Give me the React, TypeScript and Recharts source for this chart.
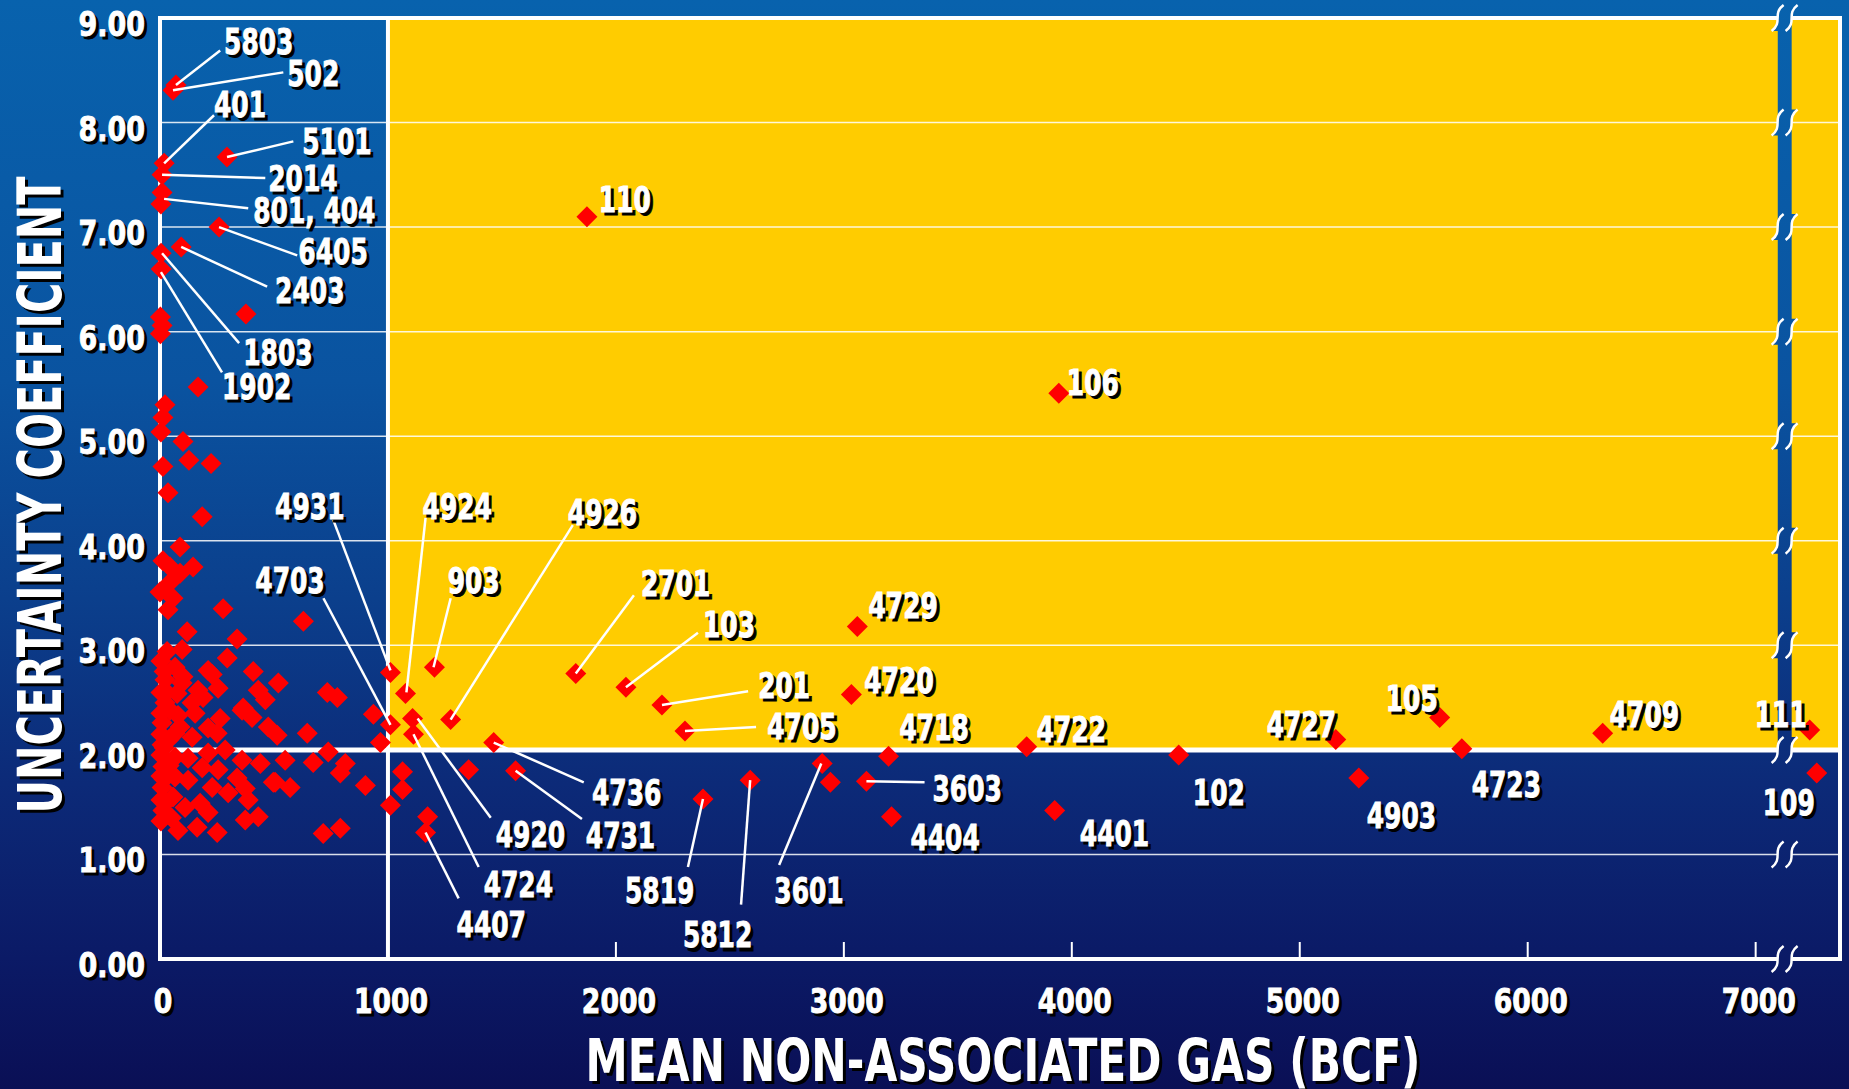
import React from 'react';
import {
  ScatterChart, Scatter, XAxis, YAxis, CartesianGrid,
  ReferenceArea, ReferenceLine, ReferenceDot,
} from 'recharts';

const W = 1849;
const H = 1089;
const FONT = "'Liberation Sans Narrow', 'Arial Narrow', 'DejaVu Sans Condensed', sans-serif";

// axis setup
const X_MAX = 7370;
const xTicks = [0, 1000, 2000, 3000, 4000, 5000, 6000, 7000];
const yTicks = [0, 1, 2, 3, 4, 5, 6, 7, 8, 9];
const BREAK_X = [7097, 7158]; // blue column of the axis break
const BREAK_MID = 7127;

// labelled fields: [name, mean gas (BCF), uncertainty coefficient]
const labelledFields: [string, number, number][] = [
  ['5803', 70, 8.36], ['502', 57, 8.31], ['401', 18, 7.61], ['5101', 294, 7.67],
  ['2014', 9, 7.5], ['801', 9, 7.33], ['404', 4, 7.22], ['6405', 259, 7.0],
  ['2403', 93, 6.81], ['1803', 5, 6.75], ['1902', 5, 6.6], ['110', 1873, 7.1],
  ['106', 3943, 5.41], ['4931', 1011, 2.74], ['4924', 1077, 2.54], ['903', 1204, 2.79],
  ['4926', 1275, 2.29], ['4703', 1011, 2.24], ['4920', 1108, 2.3], ['4724', 1112, 2.15],
  ['4736', 1464, 2.07], ['4731', 1560, 1.8], ['4407', 1165, 1.21], ['2701', 1824, 2.73],
  ['103', 2044, 2.6], ['201', 2202, 2.43], ['4705', 2303, 2.18], ['5819', 2382, 1.53],
  ['5812', 2589, 1.71], ['3601', 2905, 1.87], ['3603', 3099, 1.7], ['4729', 3059, 3.18],
  ['4720', 3033, 2.53], ['4718', 3196, 1.94], ['4404', 3209, 1.36], ['4722', 3802, 2.03],
  ['4401', 3925, 1.42], ['102', 4469, 1.95], ['4727', 5158, 2.1], ['4903', 5259, 1.73],
  ['105', 5614, 2.31], ['4723', 5711, 2.01], ['4709', 6329, 2.16], ['111', 7237, 2.19],
  ['109', 7268, 1.78],
];

// other fields, mostly the small ones crowded near the y axis
const otherFields: [number, number][] = [
  [377, 6.17], [2, 6.14], [9, 6.06], [2, 5.98],
  [167, 5.47], [22, 5.3], [13, 5.18], [4, 5.04], [101, 4.95], [13, 4.71], [127, 4.77],
  [224, 4.74], [35, 4.46], [185, 4.23],
  [88, 3.94], [13, 3.81], [44, 3.75], [145, 3.75], [88, 3.69], [44, 3.6], [0, 3.51],
  [57, 3.45], [35, 3.34], [277, 3.35], [629, 3.23], [119, 3.13], [338, 3.06],
  [31, 2.94], [97, 2.96], [295, 2.88], [409, 2.75], [66, 2.79], [101, 2.7], [211, 2.76],
  [229, 2.72], [22, 2.67], [519, 2.64], [255, 2.59], [75, 2.54], [167, 2.57], [431, 2.57],
  [462, 2.48], [22, 2.45], [141, 2.45], [360, 2.38], [79, 2.33], [154, 2.35], [404, 2.31],
  [264, 2.3], [9, 2.26], [211, 2.21], [475, 2.22], [66, 2.16], [141, 2.12], [514, 2.14],
  [9, 2.05], [286, 2.0], [211, 1.97], [66, 1.93], [123, 1.92], [360, 1.9], [440, 1.87],
  [13, 1.84], [185, 1.83], [255, 1.81], [66, 1.74], [123, 1.71], [338, 1.73], [497, 1.69],
  [9, 1.64], [229, 1.64], [374, 1.63], [299, 1.59], [57, 1.55], [176, 1.49], [387, 1.52],
  [13, 1.42], [110, 1.45], [211, 1.4], [431, 1.36], [374, 1.33], [79, 1.23], [163, 1.26],
  [251, 1.21], [44, 2.38], [88, 2.22], [251, 2.16], [189, 2.5], [365, 2.4], [97, 2.64],
  [4, 2.85], [4, 2.55], [4, 2.35], [4, 2.15], [4, 1.95], [4, 1.75], [4, 1.52], [4, 1.32],
  [18, 2.75], [18, 2.02], [18, 1.72], [26, 1.5], [40, 2.1], [40, 1.85], [30, 2.55], [50, 1.35],
  [734, 2.55], [778, 2.5], [936, 2.34], [646, 2.16], [967, 2.07], [738, 1.98], [549, 1.9],
  [672, 1.88], [813, 1.87], [791, 1.78], [901, 1.66], [505, 1.69], [571, 1.64], [1011, 1.47],
  [716, 1.2], [791, 1.25], [1064, 1.79], [1064, 1.62], [1174, 1.36], [1354, 1.81], [2941, 1.69],
];

// label placement in data units: [text, label x, label y, leader from x, from y, to x, to y]
const labelNotes: [string, number, number, number?, number?, number?, number?][] = [
  ['5803', 281, 8.66, 264, 8.69, 70, 8.36],
  ['502', 558, 8.35, 541, 8.48, 57, 8.31],
  ['401', 237, 8.05, 237, 8.07, 18, 7.61],
  ['5101', 624, 7.7, 585, 7.82, 294, 7.67],
  ['2014', 475, 7.35, 462, 7.47, 9, 7.5],
  ['801, 404', 409, 7.04, 387, 7.18, 18, 7.27],
  ['6405', 607, 6.65, 602, 6.73, 259, 7.0],
  ['2403', 505, 6.27, 470, 6.43, 93, 6.81],
  ['1803', 365, 5.68, 347, 5.89, 9, 6.75],
  ['1902', 272, 5.36, 272, 5.61, 4, 6.57],
  ['110', 1925, 7.14],
  ['106', 3978, 5.39],
  ['4931', 505, 4.21, 760, 4.2, 1011, 2.76],
  ['4703', 418, 3.5, 717, 3.45, 1011, 2.24],
  ['4924', 1152, 4.21, 1165, 4.22, 1081, 2.55],
  ['903', 1262, 3.5, 1275, 3.45, 1200, 2.79],
  ['4926', 1789, 4.15, 1811, 4.15, 1275, 2.29],
  ['2701', 2110, 3.47, 2079, 3.48, 1824, 2.73],
  ['103', 2382, 3.08, 2360, 3.12, 2044, 2.6],
  ['201', 2624, 2.5, 2580, 2.56, 2202, 2.43],
  ['4705', 2664, 2.1, 2615, 2.22, 2303, 2.18],
  ['4729', 3108, 3.26],
  ['4720', 3090, 2.54],
  ['4718', 3244, 2.09],
  ['4722', 3846, 2.08],
  ['3603', 3389, 1.51, 3354, 1.69, 3099, 1.7],
  ['3601', 2695, 0.54, 2716, 0.9, 2901, 1.87],
  ['4404', 3292, 1.04],
  ['4736', 1895, 1.47, 1859, 1.69, 1464, 2.07],
  ['4920', 1473, 1.07, 1451, 1.35, 1130, 2.3],
  ['4731', 1868, 1.06, 1851, 1.34, 1560, 1.8],
  ['4724', 1420, 0.59, 1398, 0.88, 1112, 2.15],
  ['4407', 1301, 0.21, 1310, 0.58, 1165, 1.21],
  ['5819', 2040, 0.54, 2316, 0.88, 2382, 1.53],
  ['5812', 2294, 0.11, 2549, 0.52, 2589, 1.71],
  ['4401', 4035, 1.08],
  ['102', 4531, 1.47],
  ['4727', 4855, 2.12],
  ['4903', 5294, 1.25],
  ['105', 5377, 2.37],
  ['4723', 5754, 1.55],
  ['4709', 6360, 2.22],
  ['111', 6996, 2.22],
  ['109', 7031, 1.38],
];

const points = [
  ...otherFields.map(([x, y]) => ({ x, y })),
  ...labelledFields.map(([, x, y]) => ({ x, y })),
];
const labelPoints = labelNotes.map(([text, x, y]) => ({ x, y, text }));
const leaders = labelNotes.filter(n => n[3] !== undefined);

// white bold condensed text with a hard black drop shadow
function ShadowText({ x, y, size, anchor = 'start', sx = 0.8, children }: any) {
  const common = { fontFamily: FONT, fontWeight: 700, fontSize: size, textAnchor: anchor, strokeWidth: 0.9, paintOrder: 'stroke' };
  return (
    <g transform={`translate(${x},${y}) scale(${sx},1)`}>
      <text x={3 / sx} y={3} fill="#000" stroke="#000" {...common}>{children}</text>
      <text x={0} y={0} fill="#fff" stroke="#fff" {...common}>{children}</text>
    </g>
  );
}

function Diamond(props: any) {
  const { cx, cy } = props;
  const r = 10.5;
  return <polygon points={`${cx},${cy - r} ${cx + r},${cy} ${cx},${cy + r} ${cx - r},${cy}`} fill="#ff0000" />;
}

function LabelShape(props: any) {
  return <ShadowText x={props.cx} y={props.cy} size={36} sx={0.77}>{props.payload.text}</ShadowText>;
}

function BreakMark(props: any) {
  const { cx, cy } = props;
  const fill = `M ${cx - 13} ${cy + 13} C ${cx - 1} ${cy + 4}, ${cx - 13} ${cy - 4}, ${cx - 1} ${cy - 13} L ${cx + 13} ${cy - 13} C ${cx + 1} ${cy - 4}, ${cx + 13} ${cy + 4}, ${cx + 1} ${cy + 13} Z`;
  const curve = (d: number) => `M ${cx + d - 6} ${cy + 13} C ${cx + d + 6} ${cy + 4}, ${cx + d - 6} ${cy - 4}, ${cx + d + 6} ${cy - 13}`;
  return (
    <g>
      <path d={fill} fill="url(#bgGrad)" />
      <path d={curve(-7)} fill="none" stroke="#fff" strokeWidth={2.5} />
      <path d={curve(7)} fill="none" stroke="#fff" strokeWidth={2.5} />
    </g>
  );
}

function BottomTick(props: any) {
  const { x, y, payload } = props;
  return (
    <g>
      {payload.value > 0 && <line x1={x} y1={y} x2={x} y2={y - 17} stroke="#fff" strokeWidth={2} />}
      <ShadowText x={x + 3} y={y + 54} size={34} sx={0.87} anchor="middle">{payload.value}</ShadowText>
    </g>
  );
}

function TopTick(props: any) {
  const { x, y, payload } = props;
  if (payload.value <= 0) return <g />;
  return <line x1={x} y1={y} x2={x} y2={y + 17} stroke="#fff" strokeWidth={2} />;
}

function LeftTick(props: any) {
  const { x, y, payload } = props;
  return <ShadowText x={x - 15} y={y + 18} size={34} sx={0.88} anchor="end">{payload.value.toFixed(2)}</ShadowText>;
}

const BG = 'linear-gradient(180deg, #0862ad 0%, #0a53a0 35%, #0b3f8c 55%, #0c2a78 72%, #0b1a66 88%, #0a0f55 100%)';

export default function App() {
  return (
    <div style={{ position: 'absolute', left: 0, top: 0, width: W, height: H, background: BG, overflow: 'hidden' }}>
      <ScatterChart width={W} height={H} margin={{ top: 0, right: 9, bottom: 0, left: 0 }}>
        <defs>
          <linearGradient id="bgGrad" gradientUnits="userSpaceOnUse" x1="0" y1="0" x2="0" y2={H}>
            <stop offset="0%" stopColor="#0862ad" />
            <stop offset="35%" stopColor="#0a53a0" />
            <stop offset="55%" stopColor="#0b3f8c" />
            <stop offset="72%" stopColor="#0c2a78" />
            <stop offset="88%" stopColor="#0b1a66" />
            <stop offset="100%" stopColor="#0a0f55" />
          </linearGradient>
        </defs>
        <ReferenceArea x1={1000} x2={X_MAX} y1={2} y2={9} fill="#ffcc00" fillOpacity={1} stroke="none" zIndex={-200} />
        <CartesianGrid horizontal vertical={false} stroke="#ffffff" strokeOpacity={0.85} strokeWidth={1.5} zIndex={-100} />
        <ReferenceArea x1={BREAK_X[0]} x2={BREAK_X[1]} y1={2} y2={9} fill="url(#bgGrad)" fillOpacity={1} stroke="none" zIndex={-90} />
        <ReferenceLine x={1000} stroke="#fff" strokeWidth={4} zIndex={-80} />
        <ReferenceLine y={2} stroke="#fff" strokeWidth={5} zIndex={-80} />
        <ReferenceArea x1={0} x2={X_MAX} y1={0} y2={9} fill="none" stroke="#fff" strokeWidth={4} zIndex={-70} />
        <XAxis
          dataKey="x" type="number" domain={[0, X_MAX]} ticks={xTicks} height={130}
          axisLine={false} tickLine={false} tickSize={0} tickMargin={0} interval={0}
          tick={(p: any) => <BottomTick {...p} />}
        />
        <XAxis
          xAxisId="top" orientation="top" dataKey="x" type="number" domain={[0, X_MAX]} ticks={xTicks} height={18}
          axisLine={false} tickLine={false} tickSize={0} tickMargin={0} interval={0}
          tick={(p: any) => <TopTick {...p} />}
        />
        <YAxis
          dataKey="y" type="number" domain={[0, 9]} ticks={yTicks} width={160}
          axisLine={false} tickLine={false} tickSize={0} tickMargin={0} interval={0}
          tick={(p: any) => <LeftTick {...p} />}
        />
        <Scatter data={points} shape={Diamond} isAnimationActive={false} zIndex={600} />
        {yTicks.map(v => (
          <ReferenceDot key={`b${v}`} x={BREAK_MID} y={v} ifOverflow="visible" shape={(p: any) => <BreakMark {...p} />} zIndex={650} />
        ))}
        {leaders.map((n, i) => (
          <ReferenceLine
            key={`l${i}`}
            segment={[{ x: n[3] as number, y: n[4] as number }, { x: n[5] as number, y: n[6] as number }]}
            stroke="#fff" strokeWidth={2.5} ifOverflow="visible" zIndex={700}
          />
        ))}
        <Scatter data={labelPoints} shape={LabelShape} isAnimationActive={false} zIndex={800} />
        <g>
          <g transform="translate(3,3)">
            <text x={61} y={495} transform="rotate(-90 61 495)" textAnchor="middle" fontFamily={FONT} fontWeight={700} fontSize={60} fill="#000" textLength={637} lengthAdjust="spacingAndGlyphs">UNCERTAINTY COEFFICIENT</text>
            <text x={1003} y={1081} textAnchor="middle" fontFamily={FONT} fontWeight={700} fontSize={58} fill="#000" textLength={835} lengthAdjust="spacingAndGlyphs">MEAN NON-ASSOCIATED GAS (BCF)</text>
          </g>
          <text x={61} y={495} transform="rotate(-90 61 495)" textAnchor="middle" fontFamily={FONT} fontWeight={700} fontSize={60} fill="#fff" textLength={637} lengthAdjust="spacingAndGlyphs">UNCERTAINTY COEFFICIENT</text>
          <text x={1003} y={1081} textAnchor="middle" fontFamily={FONT} fontWeight={700} fontSize={58} fill="#fff" textLength={835} lengthAdjust="spacingAndGlyphs">MEAN NON-ASSOCIATED GAS (BCF)</text>
        </g>
      </ScatterChart>
    </div>
  );
}
